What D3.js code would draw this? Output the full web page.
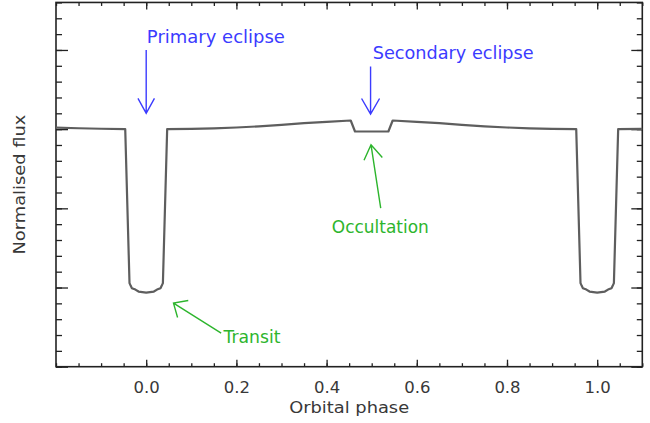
<!DOCTYPE html>
<html>
<head>
<meta charset="utf-8">
<script src="https://cdn.jsdelivr.net/npm/d3@7"></script>
<style>
  html, body { margin: 0; padding: 0; background: #fff; }
  svg { display: block; }
  text { font-family: "DejaVu Sans", "Liberation Sans", sans-serif; }
</style>
</head>
<body>
<svg id="chart" width="650" height="423"></svg>
<script>
// Light curve samples: orbital phase and normalised flux
const phase = [-0.2, -0.15, -0.1, -0.0465, -0.037, -0.0343, -0.0317, -0.024, -0.017, 0,
  0.017, 0.024, 0.0317, 0.0343, 0.037, 0.0465, 0.1, 0.15, 0.2, 0.25, 0.3, 0.35, 0.4,
  0.4535, 0.463, 0.537, 0.5465, 0.6, 0.65, 0.7, 0.75, 0.8, 0.85, 0.9, 0.9535,
  0.963, 0.9657, 0.9683, 0.976, 0.983, 1.0, 1.017, 1.024, 1.0317, 1.0343, 1.037, 1.0465, 1.1];
const flux = [1.00019, 1.00011, 1.00005, 1.0, 0.98055, 0.98021, 0.97992, 0.97974, 0.97949, 0.97936,
  0.97949, 0.97974, 0.97992, 0.98021, 0.98055, 1.0, 1.00004, 1.0001, 1.00021, 1.00035, 1.00054, 1.00075, 1.00093,
  1.00109, 0.9997, 0.9997, 1.00109, 1.00093, 1.00075, 1.00054, 1.00035, 1.00021, 1.0001, 1.00004, 1.0,
  0.98055, 0.98021, 0.97992, 0.97974, 0.97949, 0.97936, 0.97949, 0.97974, 0.97992, 0.98021, 0.98055, 1.0, 1.00004];

// Axis ticks
const xTickValues = [0.0, 0.2, 0.4, 0.6, 0.8, 1.0];
const xTickLabels = ["0.0", "0.2", "0.4", "0.6", "0.8", "1.0"];
const yMajorValues = [0.97, 0.98, 0.99, 1.00, 1.01];

// Annotations: label, colour, text anchor point, arrow tail and tip (phase, flux)
const annotations = [
  { text: "Primary eclipse", color: "#3b3bff", at: [0.0015, 1.01083], len: 138,
    tail: [0, 1.0100], tip: [0, 1.0020], head: 17, angle: 29 },
  { text: "Secondary eclipse", color: "#3b3bff", at: [0.5022, 1.00884], len: 161,
    tail: [0.4975, 1.0079], tip: [0.4975, 1.0019], head: 18, angle: 30 },
  { text: "Occultation", color: "#2db52d", at: [0.4115, 0.98694], len: 97,
    tail: [0.5200, 0.99002], tip: [0.4985, 0.99802], head: 17, angle: 33 },
  { text: "Transit", color: "#2db52d", at: [0.1713, 0.97297], len: 57,
    tail: [0.1662, 0.97424], tip: [0.0605, 0.97803], head: 15, angle: 42 }
];

const svg = d3.select("#chart");
const plotLeft = 56, plotRight = 642.3, plotTop = 2.45, plotBottom = 366.7;

const x = d3.scaleLinear().domain([-0.2, 1.1]).range([plotLeft, plotRight]);
const y = d3.scaleLinear().domain([0.97, 1.016]).range([plotBottom, plotTop]);

const xMinor = d3.range(-0.2, 1.1001, 0.05).map(v => +v.toFixed(2));
const yMinor = d3.range(0.97, 1.0161, 0.002).map(v => +v.toFixed(3));

const axisColor = "#222";
const textColor = "#383838";

function styleAxis(g) {
  g.select(".domain").remove();
  g.selectAll(".tick line").attr("stroke", axisColor).attr("stroke-width", 1.3);
}

// Minor and major ticks on all four sides, pointing inward
svg.append("g").attr("transform", `translate(0,${plotBottom})`)
  .call(d3.axisBottom(x).tickValues(xMinor).tickSize(-3.5).tickFormat(""))
  .call(styleAxis);
svg.append("g").attr("transform", `translate(0,${plotBottom})`)
  .call(d3.axisBottom(x).tickValues(xTickValues).tickSize(-7)
    .tickPadding(15).tickFormat((d, i) => xTickLabels[i]))
  .call(styleAxis)
  .call(g => g.selectAll(".tick text")
    .attr("font-size", 16.5).attr("fill", textColor)
    .attr("font-family", '"DejaVu Sans", sans-serif'));
svg.append("g").attr("transform", `translate(0,${plotTop})`)
  .call(d3.axisTop(x).tickValues(xMinor).tickSize(-3.5).tickFormat(""))
  .call(styleAxis);
svg.append("g").attr("transform", `translate(0,${plotTop})`)
  .call(d3.axisTop(x).tickValues(xTickValues).tickSize(-7).tickFormat(""))
  .call(styleAxis);

svg.append("g").attr("transform", `translate(${plotLeft},0)`)
  .call(d3.axisLeft(y).tickValues(yMinor).tickSize(-6).tickFormat(""))
  .call(styleAxis);
svg.append("g").attr("transform", `translate(${plotLeft},0)`)
  .call(d3.axisLeft(y).tickValues(yMajorValues).tickSize(-12).tickFormat(""))
  .call(styleAxis);
svg.append("g").attr("transform", `translate(${plotRight},0)`)
  .call(d3.axisRight(y).tickValues(yMinor).tickSize(-5.5).tickFormat(""))
  .call(styleAxis);
svg.append("g").attr("transform", `translate(${plotRight},0)`)
  .call(d3.axisRight(y).tickValues(yMajorValues).tickSize(-11).tickFormat(""))
  .call(styleAxis);

// Plot frame
svg.append("rect")
  .attr("x", plotLeft).attr("y", plotTop)
  .attr("width", plotRight - plotLeft).attr("height", plotBottom - plotTop)
  .attr("fill", "none").attr("stroke", axisColor).attr("stroke-width", 1.6);

// Light curve
const points = phase.map((p, i) => [p, flux[i]]);
svg.append("path")
  .datum(points)
  .attr("fill", "none")
  .attr("stroke", "#5e5e5e")
  .attr("stroke-width", 2.2)
  .attr("stroke-linejoin", "round")
  .attr("d", d3.line().x(d => x(d[0])).y(d => y(d[1])));

// Axis titles
svg.append("text")
  .attr("x", (plotLeft + plotRight) / 2).attr("y", 413)
  .attr("text-anchor", "middle")
  .attr("font-size", 16.5).attr("fill", textColor)
  .attr("textLength", 120).attr("lengthAdjust", "spacingAndGlyphs")
  .text("Orbital phase");
svg.append("text")
  .attr("transform", `translate(25,${(plotTop + plotBottom) / 2}) rotate(-90)`)
  .attr("text-anchor", "middle")
  .attr("font-size", 16.5).attr("fill", textColor)
  .attr("textLength", 140).attr("lengthAdjust", "spacingAndGlyphs")
  .text("Normalised flux");

// Annotation labels and arrows
annotations.forEach(a => {
  svg.append("text")
    .attr("x", x(a.at[0])).attr("y", y(a.at[1]))
    .attr("font-size", 17).attr("fill", a.color)
    .attr("textLength", a.len).attr("lengthAdjust", "spacingAndGlyphs")
    .text(a.text);

  const tx = x(a.tip[0]), ty = y(a.tip[1]);
  const sx = x(a.tail[0]), sy = y(a.tail[1]);
  const dir = Math.atan2(sy - ty, sx - tx);
  const rad = a.angle * Math.PI / 180;
  const h1 = [tx + a.head * Math.cos(dir - rad), ty + a.head * Math.sin(dir - rad)];
  const h2 = [tx + a.head * Math.cos(dir + rad), ty + a.head * Math.sin(dir + rad)];
  const path = d3.path();
  path.moveTo(sx, sy); path.lineTo(tx, ty);
  path.moveTo(h1[0], h1[1]); path.lineTo(tx, ty); path.lineTo(h2[0], h2[1]);
  svg.append("path")
    .attr("d", path.toString())
    .attr("fill", "none")
    .attr("stroke", a.color)
    .attr("stroke-width", 1.4)
    .attr("stroke-linejoin", "miter");
});
</script>
</body>
</html>
